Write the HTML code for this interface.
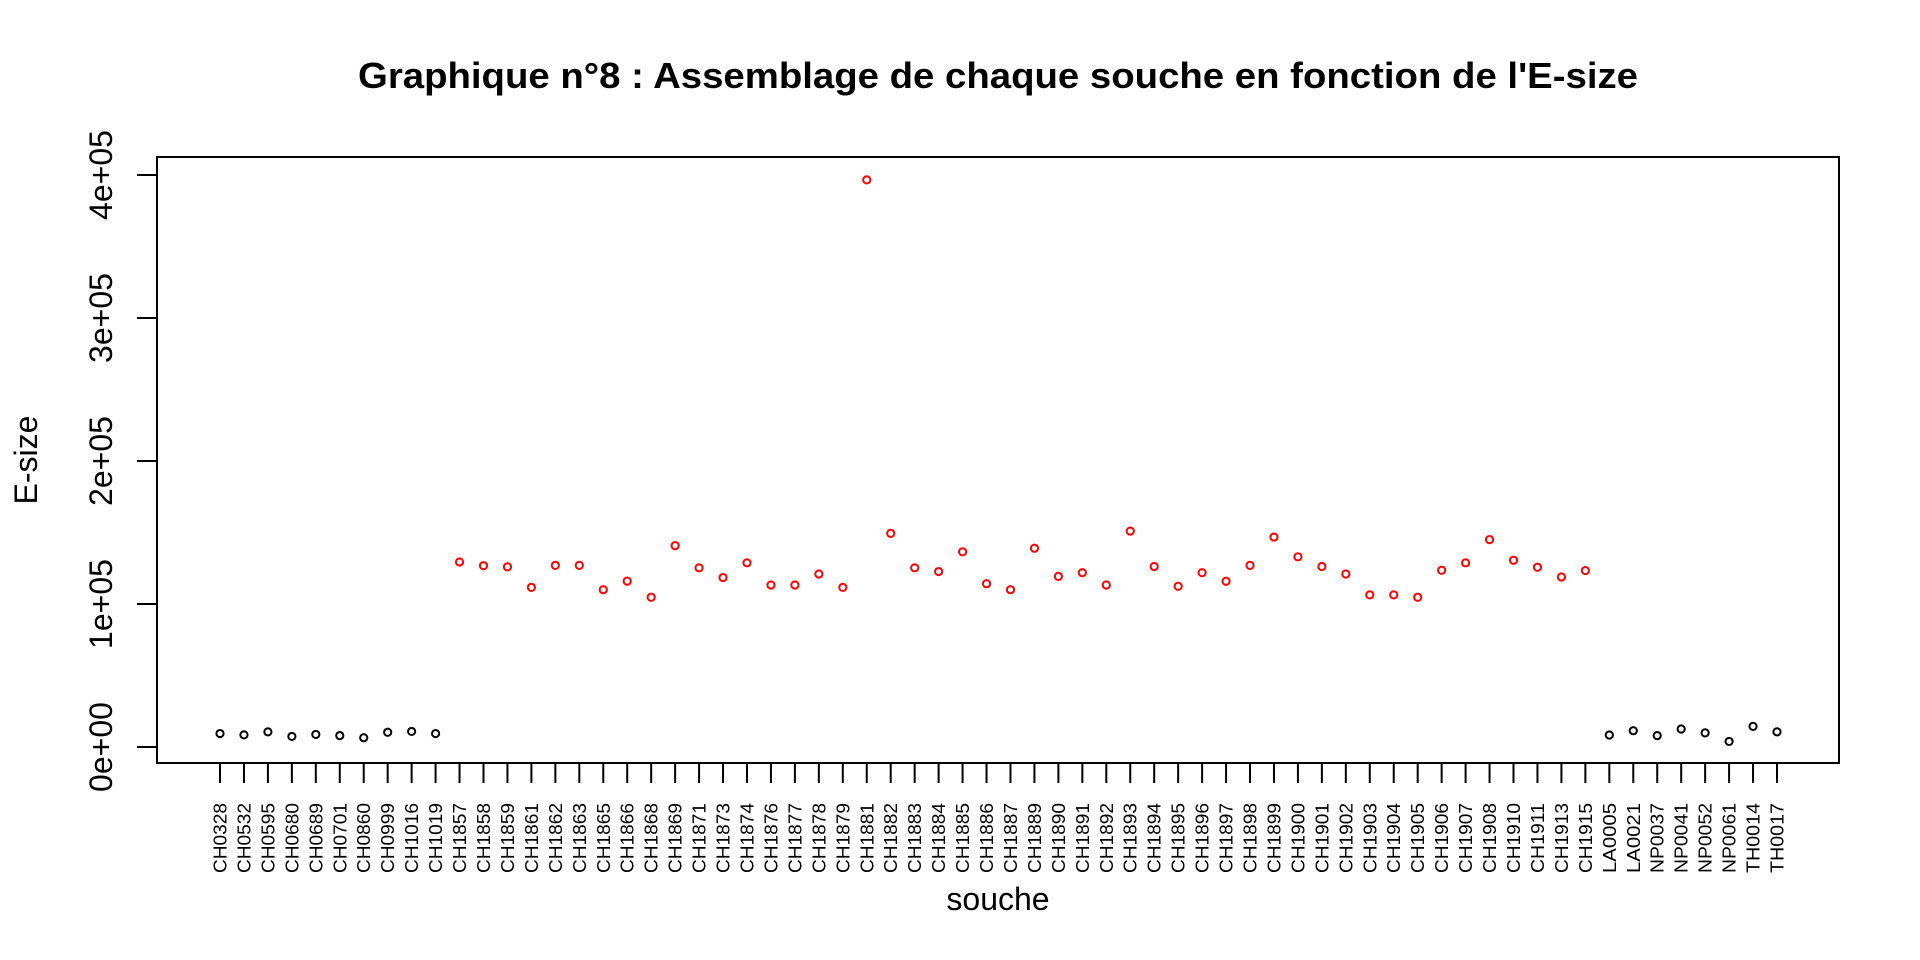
<!DOCTYPE html>
<html><head><meta charset="utf-8">
<style>
html,body{margin:0;padding:0;background:#fff;}
svg{display:block;font-family:"Liberation Sans",Arial,sans-serif;}
</style></head>
<body>
<svg id="chart" width="1920" height="960" viewBox="0 0 1920 960" xmlns="http://www.w3.org/2000/svg">
<rect x="0" y="0" width="1920" height="960" fill="#fff"/>
<text x="998" y="88" text-anchor="middle" font-size="36" font-weight="bold" textLength="1280" lengthAdjust="spacingAndGlyphs">Graphique n°8 : Assemblage de chaque souche en fonction de l'E-size</text>
<rect x="157" y="157" width="1682" height="606" fill="none" stroke="#000" stroke-width="2"/>
<text transform="translate(37,460) rotate(-90)" text-anchor="middle" font-size="32">E-size</text>
<text x="998" y="910" text-anchor="middle" font-size="32">souche</text>
<g id="yaxis"></g>
<g id="xaxis"></g>
<g id="points"></g>
</svg>
<script>
const categories = ["CH0328","CH0532","CH0595","CH0680","CH0689","CH0701","CH0860","CH0999","CH1016","CH1019",
"CH1857","CH1858","CH1859","CH1861","CH1862","CH1863","CH1865","CH1866","CH1868","CH1869","CH1871","CH1873","CH1874","CH1876","CH1877","CH1878","CH1879","CH1881","CH1882","CH1883","CH1884","CH1885","CH1886","CH1887","CH1889","CH1890","CH1891","CH1892","CH1893","CH1894","CH1895","CH1896","CH1897","CH1898","CH1899","CH1900","CH1901","CH1902","CH1903","CH1904","CH1905","CH1906","CH1907","CH1908","CH1910","CH1911","CH1913","CH1915",
"LA0005","LA0021","NP0037","NP0041","NP0052","NP0061","TH0014","TH0017"];
const esize = [9400,8500,10600,7400,8800,8000,6500,10300,10900,9400,
129400,126800,126000,111600,127000,127000,110000,116000,104700,140800,125300,118500,128800,113300,113300,121000,111600,396600,149400,125300,122700,136500,114200,110000,139000,119300,121900,113300,151000,126200,112400,121900,115900,127000,146800,133000,126200,121000,106400,106400,104700,123600,128800,145000,130600,125700,118900,123400,
8400,11400,8000,12600,9900,3900,14400,10600];
const highlighted = categories.map(c => /^CH18|^CH19/.test(c));
const yTicks = [0,100000,200000,300000,400000];
const yTickLabels = ["0e+00","1e+05","2e+05","3e+05","4e+05"];

const NS = "http://www.w3.org/2000/svg";
const X0 = 220, DX = (1777-220)/65;
const yScale = v => 747 - v * 143 / 100000;
const xScale = i => X0 + i * DX;
function mk(tag, attrs, parent){const e=document.createElementNS(NS,tag);for(const k in attrs)e.setAttribute(k,attrs[k]);parent.appendChild(e);return e;}

const ya = document.getElementById("yaxis");
yTicks.forEach((t,i)=>{
  const y = yScale(t);
  const l = mk("line",{x1:137,x2:157,y1:y,y2:y,stroke:"#000","stroke-width":2},ya);
  
  
  const tx = mk("text",{transform:`translate(112,${y}) rotate(-90)`,"text-anchor":"middle","font-size":32},ya);
  
  
  tx.textContent = yTickLabels[i];
});

const xa = document.getElementById("xaxis");
categories.forEach((c,i)=>{
  const x = xScale(i);
  const l = mk("line",{x1:x,x2:x,y1:763,y2:783,stroke:"#000","stroke-width":2},xa);
  
  
  const tx = mk("text",{transform:`translate(${x+6.5},873) rotate(-90)`,"text-anchor":"start","font-size":18.5,textLength:70,lengthAdjust:"spacingAndGlyphs"},xa);
  
  
  tx.textContent = c;
});

const pg = document.getElementById("points");
esize.forEach((v,i)=>{
  const c = mk("circle",{cx:xScale(i),cy:yScale(v),r:3.6,fill:"none",stroke:highlighted[i]?"#ff0000":"#000","stroke-width":2},pg);
  
  
});
</script>
</body></html>
